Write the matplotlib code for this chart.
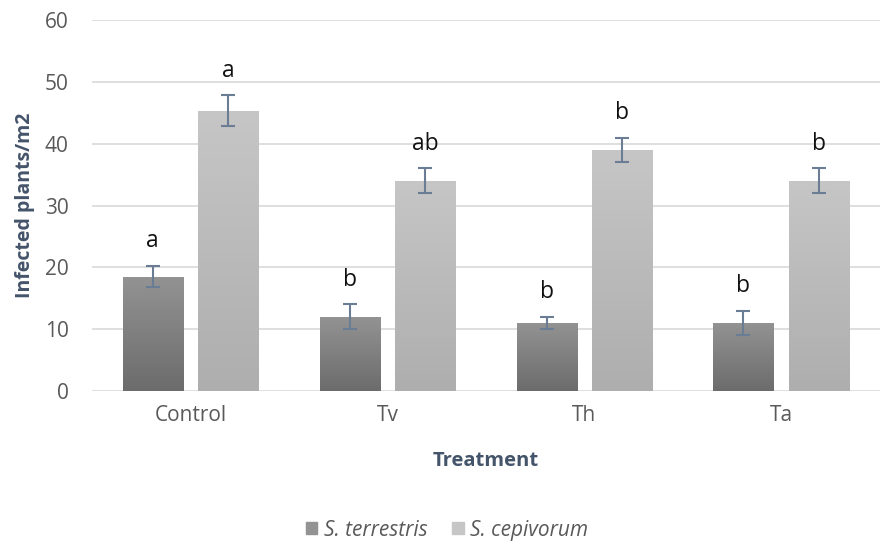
import matplotlib
matplotlib.use("Agg")
import matplotlib.pyplot as plt
import numpy as np
from matplotlib.colors import LinearSegmentedColormap

plt.rcParams['font.family'] = ['Open Sans', 'DejaVu Sans']

categories = ["Control", "Tv", "Th", "Ta"]
series_names = ["S. terrestris", "S. cepivorum"]
terrestris = [18.5, 12.0, 11.0, 11.0]
terrestris_err = [1.7, 2.0, 1.0, 2.0]
cepivorum = [45.3, 34.0, 39.0, 34.0]
cepivorum_err = [2.5, 2.0, 2.0, 2.0]
letters_terrestris = ["a", "b", "b", "b"]
letters_cepivorum = ["a", "ab", "b", "b"]
yticks = [0, 10, 20, 30, 40, 50, 60]

fig = plt.figure(figsize=(8.94, 5.42), dpi=100)
ax = fig.add_axes([0.103, 0.2786, 0.881, 0.6844])

x = np.arange(len(categories))
w = 0.305
off = 0.192

grads = [("#6c6c6c", "#939393"), ("#aeaeae", "#c6c6c6")]
ax.set_xlim(-0.5, len(categories) - 0.5)
ax.set_ylim(0, 60)

for si, (vals, errs, letters) in enumerate([(terrestris, terrestris_err, letters_terrestris),
                                            (cepivorum, cepivorum_err, letters_cepivorum)]):
    pos = x + (-off if si == 0 else off)
    bars = ax.bar(pos, vals, width=w, color=grads[si][1], zorder=2, label=series_names[si])
    cmap = LinearSegmentedColormap.from_list("g%d" % si, [grads[si][0], grads[si][1]])
    for b in bars:
        bx, by = b.get_x(), b.get_y()
        bw, bh = b.get_width(), b.get_height()
        grad = np.linspace(0, 1, 256).reshape(-1, 1)
        im = ax.imshow(grad, extent=[bx, bx + bw, by, by + bh], origin='lower',
                       cmap=cmap, aspect='auto', zorder=2.1)
        im.set_clip_path(b)
    ax.errorbar(pos, vals, yerr=errs, fmt='none', ecolor="#6b7d95", elinewidth=1.5,
                capsize=5, capthick=1.5, zorder=3)
    for p, v, e, l in zip(pos, vals, errs, letters):
        ax.text(p, v + e + 4.0, l, ha='center', va='center', fontsize=16.5, color='#111111')

ax.set_xlim(-0.5, len(categories) - 0.5)
ax.set_ylim(0, 60)
ax.set_yticks(yticks)
ax.set_xticks(x)
ax.set_xticklabels(categories)
ax.tick_params(axis='both', length=0, labelsize=15, colors='#595959', pad=10)
ax.tick_params(axis='y', pad=17)
ax.grid(axis='y', color='#d9d9d9', linewidth=1.2, zorder=0)
ax.set_axisbelow(True)
for s in ax.spines.values():
    s.set_visible(False)

ax.set_ylabel("Infected plants/m2", fontsize=14, fontweight='bold', color='#44546a', labelpad=7)
ax.set_xlabel("Treatment", fontsize=14.5, fontweight='bold', color='#44546a', labelpad=18)

handles = [plt.Rectangle((0, 0), 1, 1, color=grads[0][1]), plt.Rectangle((0, 0), 1, 1, color=grads[1][1])]
leg = fig.legend(handles, series_names, loc='center', bbox_to_anchor=(0.5, 0.022), ncol=2,
                 frameon=False, fontsize=15, handlelength=0.55, handleheight=0.55,
                 handletextpad=0.3, columnspacing=1.2)
for t in leg.get_texts():
    t.set_fontstyle('italic')
    t.set_color('#595959')

fig.savefig("out.png", dpi=100)
